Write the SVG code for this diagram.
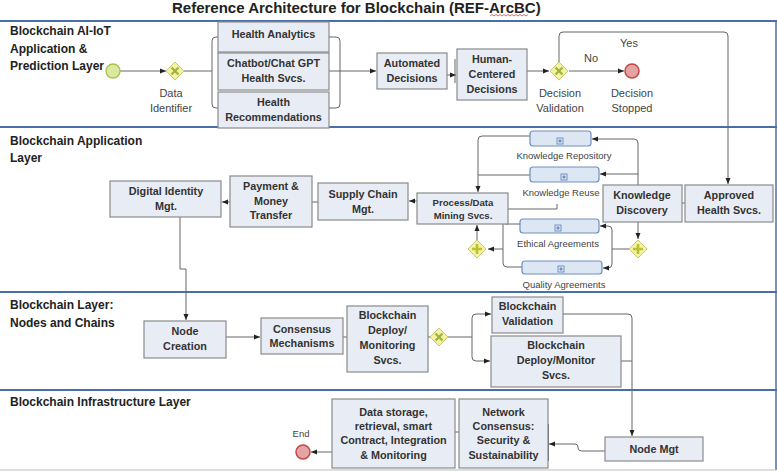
<svg xmlns="http://www.w3.org/2000/svg" width="777" height="471" viewBox="0 0 777 471">
<style>
.bg{fill:#ffffff}
.sep{stroke:#4a6fa8;stroke-width:2;fill:none}
.title{font-family:"Liberation Sans",Arial,sans-serif;font-weight:bold;font-size:15px;fill:#222}
.layer{font-family:"Liberation Sans",Arial,sans-serif;font-weight:bold;font-size:12px;fill:#222}
.box{fill:#e8edf5;stroke:#8a8a8a;stroke-width:1.2}
.bt{font-family:"Liberation Sans",Arial,sans-serif;font-weight:bold;font-size:10.8px;fill:#333;text-anchor:middle}
.bts{font-family:"Liberation Sans",Arial,sans-serif;font-weight:bold;font-size:9.6px;fill:#333;text-anchor:middle}
.lbl{font-family:"Liberation Sans",Arial,sans-serif;font-size:11px;fill:#444;text-anchor:middle}
.lbs{font-family:"Liberation Sans",Arial,sans-serif;font-size:9.5px;fill:#444;text-anchor:middle}
.sub{fill:#dde6f3;stroke:#6f8fc0;stroke-width:1.2}
.plus{fill:#dfe8f5;stroke:#5a7fb8;stroke-width:0.8}
.gw{fill:#f5f3a2;stroke:#c9c67a;stroke-width:1}
.gx{stroke:#9eb23e;stroke-width:2.2;fill:none}
.gp{stroke:#b9c232;stroke-width:2.6;fill:none}
.c{stroke:#666;stroke-width:1;fill:none}
.ca{stroke:#666;stroke-width:1;fill:none;marker-end:url(#ah)}
</style>
<defs>
<marker id="ah" viewBox="0 0 6 6" refX="6" refY="3" markerWidth="6" markerHeight="6" orient="auto" markerUnits="userSpaceOnUse"><path d="M0,0.5 L6,3 L0,5.5z" fill="#222"/></marker>
</defs>
<rect class="bg" x="0" y="0" width="777" height="471"/>

<!-- title and layers -->
<text class="title" x="172" y="13">Reference Architecture for Blockchain (REF-ArcBC)</text>
<polyline points="490,16 492,14.5 494,16 496,14.5 498,16 500,14.5 502,16 504,14.5 506,16 508,14.5 510,16 512,14.5 514,16 516,14.5 518,16 520,14.5 522,16 524,14.5 526,16 528,14.5" fill="none" stroke="#e04040" stroke-width="0.8"/>
<g id="layers">
<line class="sep" x1="0" y1="21" x2="777" y2="21"/>
<line class="sep" x1="0" y1="127" x2="777" y2="127"/>
<line class="sep" x1="0" y1="292" x2="777" y2="292"/>
<line class="sep" x1="0" y1="390" x2="777" y2="390"/>
<line x1="776" y1="21" x2="776" y2="470" stroke="#4a6fa8" stroke-width="1.5"/>
<line x1="0" y1="470" x2="776" y2="470" stroke="#bbbbbb" stroke-width="1"/>
<text class="layer" x="10" y="35">Blockchain AI-IoT</text>
<text class="layer" x="10" y="53">Application &amp;</text>
<text class="layer" x="10" y="70">Prediction Layer</text>
<text class="layer" x="10" y="145">Blockchain Application</text>
<text class="layer" x="10" y="162">Layer</text>
<text class="layer" x="10" y="309">Blockchain Layer:</text>
<text class="layer" x="10" y="327">Nodes and Chains</text>
<text class="layer" x="10" y="406">Blockchain Infrastructure Layer</text>
</g>

<!-- connectors -->
<g id="connectors">
<path class="ca" d="M120,71 H166"/>
<path class="c" d="M184,71 H212"/>
<path class="c" d="M218,37 H216 Q212,37 212,41 V104 Q212,108 216,108 H218"/>
<path class="c" d="M329,37 H336 Q340,37 340,41 V104 Q340,108 336,108 H329"/>
<path class="c" d="M329,71 H340"/>
<path class="ca" d="M340,71 H376"/>
<path class="ca" d="M447,75 H456"/>
<line class="c" x1="455" y1="59" x2="455" y2="83"/>
<path class="ca" d="M527,71 H549"/>
<path class="ca" d="M569,71 H624"/>
<path class="ca" d="M559,62 V36 Q559,32 563,32 H724 Q728,32 728,36 V184"/>

<path class="ca" d="M417,201 H409"/>
<path class="c" d="M312,202 H318"/>
<path class="ca" d="M230,202 H222"/>
<path class="ca" d="M180,217 V269 H186 V320"/>
<path class="ca" d="M638,185 V143 Q638,139 634,139 H592"/>
<path class="ca" d="M638,174 H600"/>
<path class="ca" d="M530,136 H482 Q478,136 478,140 V192"/>
<path class="c" d="M530,175 H478"/>
<path class="c" d="M508,209 H557 V204"/>
<path class="c" d="M505,224 H520"/>
<path class="c" d="M503,224 V263 Q503,267 507,267 H522"/>
<path class="ca" d="M503,249 H488"/>
<path class="ca" d="M477,240 V225"/>
<path class="ca" d="M638,222 V239"/>
<path class="c" d="M629,249 H612"/>
<path class="ca" d="M612,249 V230 Q612,226 608,226 H600"/>
<path class="ca" d="M612,249 V264 Q612,268 608,268 H603"/>
<path class="c" d="M682,203 H685"/>

<path class="ca" d="M226,337 H260"/>
<path class="c" d="M343,337 H347"/>
<path class="c" d="M428,337 H430"/>
<path class="c" d="M448,337 H472"/>
<path class="ca" d="M472,337 V318 Q472,314 476,314 H491"/>
<path class="ca" d="M472,337 V357 Q472,361 476,361 H490"/>
<path class="ca" d="M563,314 H628 Q632,314 632,318 V436"/>
<path class="c" d="M621,361 H632"/>

<path class="ca" d="M605,451 H582 Q578,451 578,448 V447 Q578,444 575,444 H549"/>
<path class="c" d="M455,432 H459"/>
<line class="c" x1="548.5" y1="424" x2="548.5" y2="461"/>
<path class="ca" d="M332,452 H311"/>
</g>

<!-- layer 1 nodes -->
<g id="start"><circle cx="113" cy="71" r="7" fill="#dbe9a0" stroke="#a6c24a" stroke-width="1.3"/></g>
<g id="gw-data">
<path class="gw" d="M175,62 L184,71 L175,80 L166,71z"/>
<path class="gx" d="M171.5,67.5 L178.5,74.5 M178.5,67.5 L171.5,74.5"/>
<text class="lbl" x="171" y="97">Data</text>
<text class="lbl" x="171" y="112">Identifier</text>
</g>
<g id="health-analytics"><rect class="box" x="218" y="22" width="111" height="30"/><text class="bt" x="273.5" y="38">Health Analytics</text></g>
<g id="chatbot"><rect class="box" x="218" y="53" width="111" height="37"/><text class="bt" x="273.5" y="67">Chatbot/Chat GPT</text><text class="bt" x="273.5" y="82">Health Svcs.</text></g>
<g id="health-rec"><rect class="box" x="218" y="92" width="111" height="36"/><text class="bt" x="273.5" y="106">Health</text><text class="bt" x="273.5" y="121">Recommendations</text></g>
<g id="automated"><rect class="box" x="377" y="53" width="70" height="36"/><text class="bt" x="412" y="67">Automated</text><text class="bt" x="412" y="82">Decisions</text></g>
<g id="human"><rect class="box" x="457" y="49" width="70" height="51"/><text class="bt" x="492" y="63">Human-</text><text class="bt" x="492" y="78">Centered</text><text class="bt" x="492" y="93">Decisions</text></g>
<g id="gw-decision">
<path class="gw" d="M559,62 L568,71 L559,80 L550,71z"/>
<path class="gx" d="M555.5,67.5 L562.5,74.5 M562.5,67.5 L555.5,74.5"/>
<text class="lbl" x="560" y="97">Decision</text>
<text class="lbl" x="560" y="112">Validation</text>
<text class="lbl" x="591" y="62">No</text>
<text class="lbl" x="629" y="47">Yes</text>
</g>
<g id="stopped"><circle cx="632" cy="71" r="7" fill="#e6a3a3" stroke="#c04848" stroke-width="1.5"/>
<text class="lbl" x="632" y="97">Decision</text><text class="lbl" x="632" y="112">Stopped</text></g>

<!-- layer 2 nodes -->
<g id="digital-identity"><rect class="box" x="110" y="181" width="111" height="36"/><text class="bt" x="166" y="195">Digital Identity</text><text class="bt" x="166" y="210">Mgt.</text></g>
<g id="payment"><rect class="box" x="230" y="176" width="82" height="51"/><text class="bt" x="271" y="190">Payment &amp;</text><text class="bt" x="271" y="205">Money</text><text class="bt" x="271" y="219">Transfer</text></g>
<g id="supply-chain"><rect class="box" x="318" y="183" width="90" height="37"/><text class="bt" x="363" y="198">Supply Chain</text><text class="bt" x="363" y="213">Mgt.</text></g>
<g id="process"><rect class="box" x="417" y="193" width="91" height="31"/><text class="bts" x="463" y="206">Process/Data</text><text class="bts" x="463" y="219">Mining Svcs.</text></g>
<g id="knowledge-repo"><rect class="sub" x="530" y="131" width="61" height="15" rx="3"/><rect class="plus" x="557" y="138" width="6" height="6"/><path d="M560,139.2 V142.8 M558.2,141 H561.8" stroke="#3a5f9a" stroke-width="0.8"/><text class="lbs" x="564" y="159">Knowledge Repository</text></g>
<g id="knowledge-reuse"><rect class="sub" x="530" y="167" width="69" height="15" rx="3"/><rect class="plus" x="561" y="174" width="6" height="6"/><path d="M564,175.2 V178.8 M562.2,177 H565.8" stroke="#3a5f9a" stroke-width="0.8"/><text class="lbs" x="561" y="196">Knowledge Reuse</text></g>
<g id="ethical"><rect class="sub" x="520" y="219" width="79" height="14" rx="3"/><rect class="plus" x="555" y="225" width="6" height="6"/><path d="M558,226.2 V229.8 M556.2,228 H559.8" stroke="#3a5f9a" stroke-width="0.8"/><text class="lbs" x="558" y="247">Ethical Agreements</text></g>
<g id="quality"><rect class="sub" x="522" y="261" width="80" height="13" rx="3"/><rect class="plus" x="558" y="266" width="6" height="6"/><path d="M561,267.2 V270.8 M559.2,269 H562.8" stroke="#3a5f9a" stroke-width="0.8"/><text class="lbs" x="564" y="288">Quality Agreements</text></g>
<g id="gw-join">
<path class="gw" d="M477,240 L486,249 L477,258 L468,249z"/>
<path class="gp" d="M477,244 V254 M472,249 H482"/>
</g>
<g id="gw-split">
<path class="gw" d="M638,240 L647,249 L638,258 L629,249z"/>
<path class="gp" d="M638,244 V254 M633,249 H643"/>
</g>
<g id="knowledge-discovery"><rect class="box" x="603" y="185" width="79" height="37"/><text class="bt" x="642" y="199">Knowledge</text><text class="bt" x="642" y="214">Discovery</text></g>
<g id="approved"><rect class="box" x="685" y="185" width="88" height="37"/><text class="bt" x="729" y="199">Approved</text><text class="bt" x="729" y="214">Health Svcs.</text></g>

<!-- layer 3 nodes -->
<g id="node-creation"><rect class="box" x="144" y="321" width="82" height="37"/><text class="bt" x="185" y="335">Node</text><text class="bt" x="185" y="350">Creation</text></g>
<g id="consensus"><rect class="box" x="261" y="318" width="82" height="36"/><text class="bt" x="302" y="333">Consensus</text><text class="bt" x="302" y="347">Mechanisms</text></g>
<g id="bc-deploy-monitoring"><rect class="box" x="347" y="306" width="81" height="66"/><text class="bt" x="387.5" y="319">Blockchain</text><text class="bt" x="387.5" y="334">Deploy/</text><text class="bt" x="387.5" y="349">Monitoring</text><text class="bt" x="387.5" y="364">Svcs.</text></g>
<g id="gw-bc">
<path class="gw" d="M439,328 L448,337 L439,346 L430,337z"/>
<path class="gx" d="M435.5,333.5 L442.5,340.5 M442.5,333.5 L435.5,340.5"/>
</g>
<g id="bc-validation"><rect class="box" x="492" y="297" width="71" height="36"/><text class="bt" x="527.5" y="310">Blockchain</text><text class="bt" x="527.5" y="325">Validation</text></g>
<g id="bc-deploy-monitor"><rect class="box" x="491" y="336" width="130" height="51"/><text class="bt" x="556" y="349">Blockchain</text><text class="bt" x="556" y="364">Deploy/Monitor</text><text class="bt" x="556" y="379">Svcs.</text></g>

<!-- layer 4 nodes -->
<g id="node-mgt"><rect class="box" x="605" y="437" width="98" height="24"/><text class="bt" x="654" y="453">Node Mgt</text></g>
<g id="network-consensus"><rect class="box" x="459" y="399" width="89" height="69"/><text class="bt" x="503.5" y="416">Network</text><text class="bt" x="503.5" y="430">Consensus:</text><text class="bt" x="503.5" y="444">Security &amp;</text><text class="bt" x="503.5" y="459">Sustainability</text></g>
<g id="data-storage"><rect class="box" x="332" y="399" width="123" height="69"/><text class="bt" x="393.5" y="416">Data storage,</text><text class="bt" x="393.5" y="430">retrieval, smart</text><text class="bt" x="393.5" y="444">Contract, Integration</text><text class="bt" x="393.5" y="459">&amp; Monitoring</text></g>
<g id="end"><circle cx="303" cy="452" r="7" fill="#e6a3a3" stroke="#c04848" stroke-width="1.5"/><text class="lbs" x="301" y="437">End</text></g>
</svg>
